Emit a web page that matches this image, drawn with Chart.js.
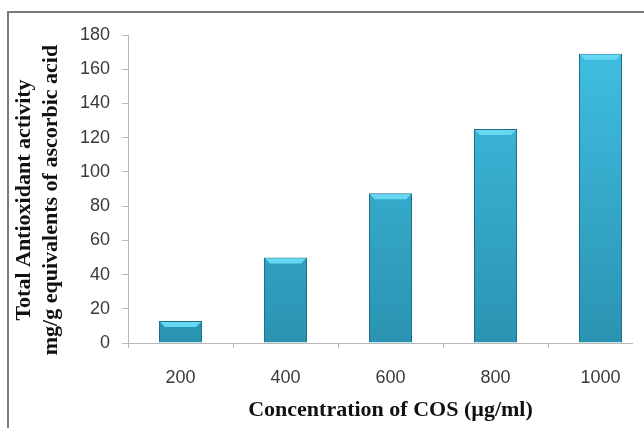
<!DOCTYPE html>
<html>
<head>
<meta charset="utf-8">
<script src="https://cdn.jsdelivr.net/npm/chart.js@4/dist/chart.umd.min.js"></script>
<style>
  html, body { margin: 0; padding: 0; background: #fff; }
  #wrap { position: relative; width: 644px; height: 433px; overflow: hidden; }
  #frame { position: absolute; left: 7px; top: 11px; width: 700px; height: 417px;
           border-top: 2px solid #7a7a7a; border-left: 2px solid #7a7a7a; box-sizing: border-box; z-index: 2; }
  #cover { position: absolute; left: 633px; top: 336px; width: 20px; height: 16px; background: #fff; z-index: 2; }
  canvas { position: absolute; left: 0; top: 0; }
</style>
</head>
<body>
<div id="wrap">
  <canvas id="c" width="672" height="433"></canvas>
  <div id="frame"></div>
  <div id="cover"></div>
</div>
<script>
const categories = ["200", "400", "600", "800", "1000"];
const activity = [12.8, 50, 87.5, 125, 169];
const yTicks = [0, 20, 40, 60, 80, 100, 120, 140, 160, 180];
const yTitle = ["Total Antioxidant activity    ", "mg/g equivalents of ascorbic acid    "];
const xTitle = "Concentration of COS (\u00b5g/ml)";

const bevelPlugin = {
  id: 'bevel',
  afterDatasetsDraw(chart) {
    const ctx = chart.ctx;
    const meta = chart.getDatasetMeta(0);
    meta.data.forEach(bar => {
      const half = bar.width / 2;
      const l = bar.x - half, r = bar.x + half, t = bar.y;
      const d = 6;
      ctx.save();
      ctx.beginPath();
      ctx.moveTo(l + 1, t + 1);
      ctx.lineTo(r - 1, t + 1);
      ctx.lineTo(r - d, t + d);
      ctx.lineTo(l + d, t + d);
      ctx.closePath();
      ctx.fillStyle = '#66d8f3';
      ctx.fill();
      ctx.restore();
    });
  }
};

const ctx = document.getElementById('c').getContext('2d');
new Chart(ctx, {
  type: 'bar',
  data: {
    labels: categories,
    datasets: [{
      data: activity,
      backgroundColor: (c) => {
        const ca = c.chart.chartArea;
        if (!ca) return '#3cb8dc';
        const g = c.chart.ctx.createLinearGradient(0, ca.top, 0, ca.bottom);
        g.addColorStop(0, '#40c0e3');
        g.addColorStop(1, '#2b93b2');
        return g;
      },
      borderColor: '#1d6f88',
      borderWidth: 1,
      barPercentage: 0.82,
      categoryPercentage: 0.5
    }]
  },
  options: {
    responsive: false,
    animation: false,
    devicePixelRatio: 1,
    layout: { padding: { left: 0, right: 19, top: 35, bottom: 0 } },
    plugins: { legend: { display: false }, tooltip: { enabled: false } },
    scales: {
      x: {
        grid: { display: true, drawOnChartArea: false, offset: true, color: '#b8b8b8', tickLength: 5 },
        border: { color: '#b8b8b8', width: 1 },
        ticks: { color: '#3a3a3a', font: { family: 'Liberation Sans', size: 18 }, padding: 19 },
        title: { display: true, text: xTitle, color: '#111',
                 font: { family: 'Liberation Serif', size: 22, weight: 'bold' }, padding: { top: 4, bottom: 9 } },
        afterFit(s) { s.height = 90; }
      },
      y: {
        min: 0, max: 180,
        afterBuildTicks(s) { s.ticks = yTicks.map(v => ({ value: v })); },
        grid: { display: true, drawOnChartArea: false, color: '#b8b8b8', tickLength: 6 },
        border: { color: '#b8b8b8', width: 1 },
        ticks: { color: '#3a3a3a', font: { family: 'Liberation Sans', size: 18 }, padding: 12 },
        title: { display: true, text: yTitle, color: '#111',
                 font: { family: 'Liberation Serif', size: 22, weight: 'bold', lineHeight: 1.23 }, padding: { top: 11, bottom: 0 } },
        afterFit(s) { s.width = 128; }
      }
    }
  },
  plugins: [bevelPlugin]
});
</script>
</body>
</html>
